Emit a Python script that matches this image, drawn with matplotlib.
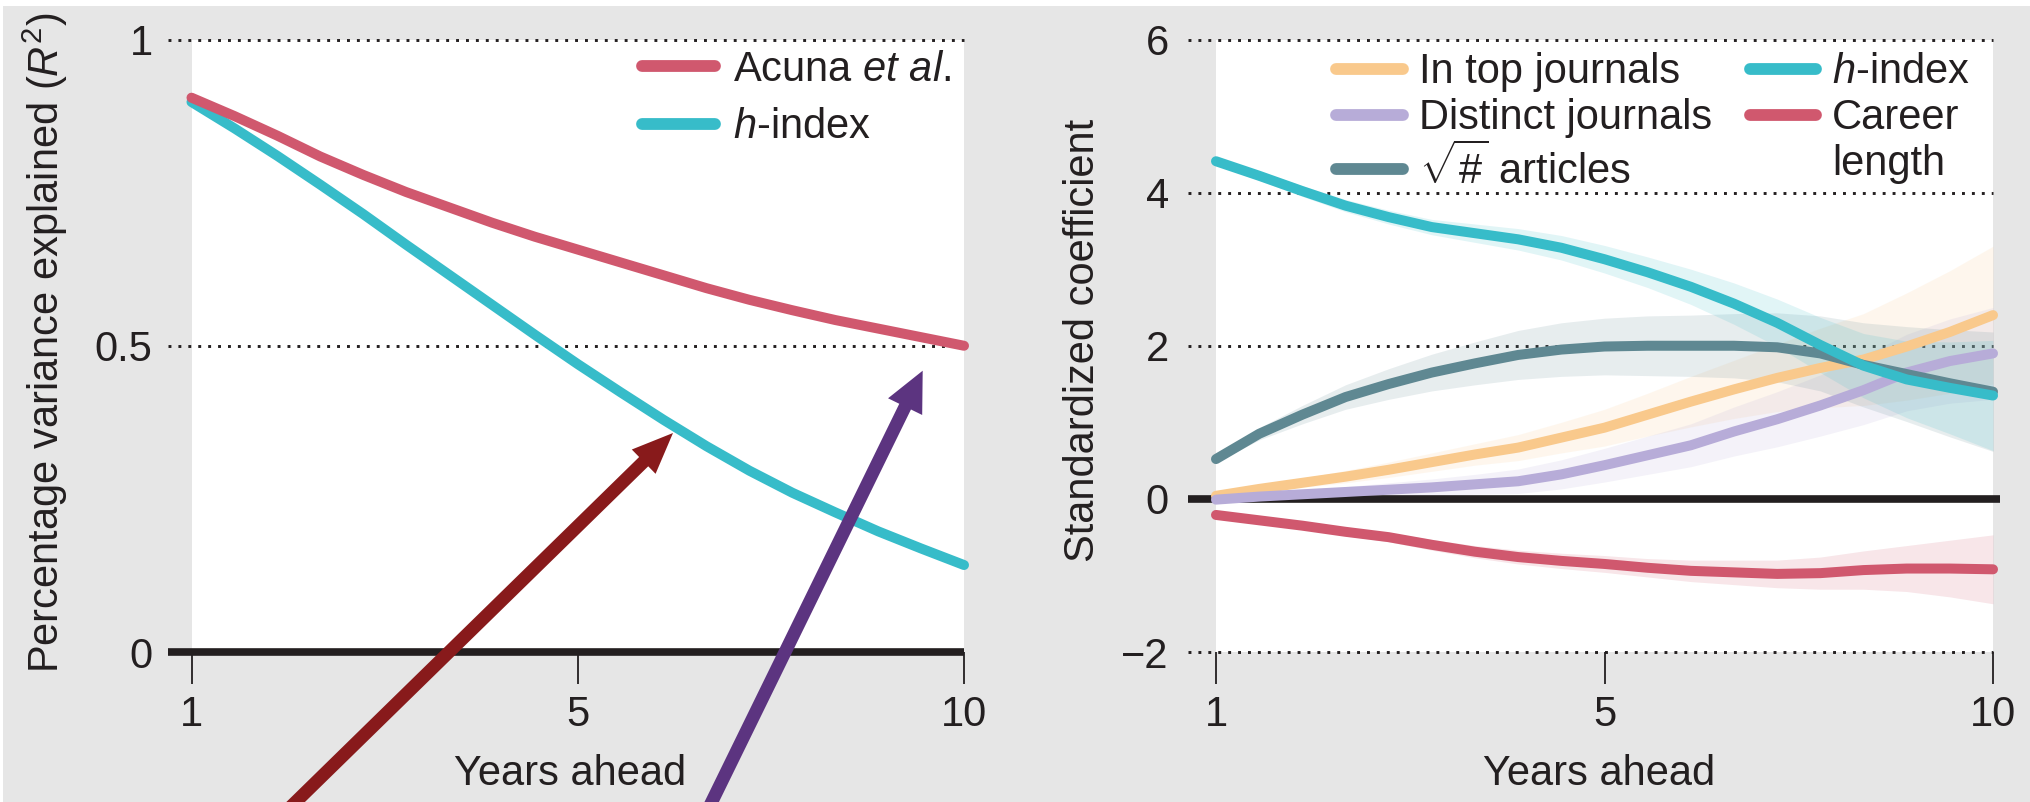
import matplotlib
matplotlib.use("Agg")
import numpy as np
import matplotlib.pyplot as plt
from matplotlib.lines import Line2D
from matplotlib.patches import Rectangle

plt.rcParams['font.family'] = ['Liberation Sans', 'DejaVu Sans']
plt.rcParams['mathtext.fontset'] = 'custom'
plt.rcParams['mathtext.rm'] = 'Liberation Sans'
plt.rcParams['mathtext.it'] = 'Liberation Sans:italic'
plt.rcParams['mathtext.bf'] = 'Liberation Sans:bold'

# ================= DATA =================
# horizontal position along the "years ahead" axis (tick "5" sits mid-way)
x_pos = [1, 1.5, 2, 2.5, 3, 3.5, 4, 4.5, 5, 5.5, 6, 6.5, 7, 7.5, 8, 8.5, 9, 9.5, 10]
x_ticks = [1, 5.5, 10]
x_ticklabels = ['1', '5', '10']

# left panel: R^2 of the two predictors
r2_acuna = [0.905, 0.875, 0.843, 0.809, 0.779, 0.751, 0.726, 0.701, 0.678, 0.657,
            0.636, 0.615, 0.594, 0.575, 0.558, 0.542, 0.528, 0.514, 0.500]
r2_hindex = [0.898, 0.855, 0.810, 0.763, 0.715, 0.665, 0.616, 0.567, 0.518, 0.470,
             0.424, 0.379, 0.336, 0.296, 0.260, 0.228, 0.197, 0.169, 0.142]
left_yticks = [0, 0.5, 1]
left_yticklabels = ['0', '0.5', '1']

# right panel: standardized coefficients and their interval half-widths
coef_top = [0.04, 0.13, 0.21, 0.29, 0.38, 0.48, 0.58, 0.67, 0.80, 0.93,
            1.10, 1.27, 1.43, 1.58, 1.71, 1.82, 1.99, 2.18, 2.40]
coef_distinct = [-0.01, 0.03, 0.06, 0.09, 0.12, 0.15, 0.19, 0.23, 0.32, 0.44,
                 0.57, 0.70, 0.88, 1.04, 1.22, 1.42, 1.65, 1.80, 1.90]
coef_articles = [0.52, 0.85, 1.10, 1.33, 1.50, 1.65, 1.77, 1.88, 1.95, 1.99,
                 2.00, 2.00, 2.00, 1.98, 1.90, 1.75, 1.63, 1.51, 1.40]
coef_hindex = [4.41, 4.22, 4.02, 3.83, 3.68, 3.55, 3.47, 3.39, 3.28, 3.13,
               2.96, 2.77, 2.55, 2.30, 2.01, 1.74, 1.56, 1.45, 1.35]
coef_career = [-0.21, -0.28, -0.35, -0.43, -0.50, -0.60, -0.69, -0.76, -0.81, -0.85,
               -0.90, -0.94, -0.96, -0.98, -0.97, -0.93, -0.91, -0.91, -0.92]

ci_top = [0.02, 0.04, 0.06, 0.08, 0.10, 0.12, 0.14, 0.17, 0.20, 0.24,
          0.28, 0.33, 0.38, 0.44, 0.52, 0.60, 0.70, 0.80, 0.90]
ci_distinct = [0.02, 0.03, 0.05, 0.07, 0.09, 0.11, 0.13, 0.16, 0.19, 0.22,
               0.25, 0.28, 0.32, 0.36, 0.40, 0.45, 0.50, 0.55, 0.60]
ci_articles = [0.04, 0.08, 0.12, 0.16, 0.20, 0.24, 0.28, 0.32, 0.35, 0.37,
               0.39, 0.40, 0.42, 0.45, 0.49, 0.55, 0.62, 0.70, 0.78]
ci_hindex = [0.05, 0.06, 0.07, 0.08, 0.09, 0.10, 0.12, 0.14, 0.16, 0.18,
             0.20, 0.23, 0.27, 0.31, 0.36, 0.42, 0.50, 0.60, 0.72]
ci_career = [0.02, 0.03, 0.04, 0.05, 0.06, 0.07, 0.08, 0.09, 0.10, 0.11,
             0.12, 0.14, 0.16, 0.18, 0.21, 0.25, 0.30, 0.37, 0.45]
right_yticks = [-2, 0, 2, 4, 6]
right_yticklabels = ['\u22122', '0', '2', '4', '6']

# ================= STYLE =================
INK = '#231f20'
BG = '#e6e6e6'
RED = '#d0586e'
CYAN = '#37bcc9'
ORANGE = '#f9c98c'
LAVENDER = '#b7acd8'
TEAL = '#5f8892'
FS = 30
LW = 7.2

fig = plt.figure(figsize=(20.3, 8.02), dpi=100, facecolor='white')
fig.patches.append(Rectangle((3 / 2030, 0), 1, 796 / 802, transform=fig.transFigure,
                             facecolor=BG, edgecolor='none', zorder=-10))

axL = fig.add_axes([191.5 / 2030, 150 / 802, 772.5 / 2030, 612.5 / 802])
axR = fig.add_axes([1216 / 2030, 150 / 802, 777 / 2030, 612.5 / 802])


def style_axis(ax, yticks, yticklabels, ypad, grid_vals, zero_val, ext_left, ext_right):
    ax.set_facecolor('white')
    for s in ax.spines.values():
        s.set_visible(False)
    ax.set_xlim(1, 10)
    ax.set_xticks(x_ticks)
    ax.set_xticklabels(x_ticklabels)
    ax.set_yticks(yticks)
    ax.set_yticklabels(yticklabels)
    ax.tick_params(axis='x', direction='out', length=23, width=1.3, color=INK,
                   pad=8, labelsize=FS, labelcolor=INK)
    ax.tick_params(axis='y', length=0, pad=ypad, labelsize=FS, labelcolor=INK)
    tr = ax.get_yaxis_transform()
    for v in grid_vals:
        ax.plot([-ext_left, 1], [v, v], transform=tr, ls=(0, (1, 2.4)), lw=2.1,
                color=INK, clip_on=False, zorder=1)
    ax.plot([-ext_left, 1 + ext_right], [zero_val, zero_val], transform=tr, lw=5.5,
            color=INK, solid_capstyle='butt', clip_on=False, zorder=2)


# ---- left panel ----
axL.set_ylim(0, 1)
style_axis(axL, left_yticks, left_yticklabels, 28, [0.5, 1], 0, 0.0304, 0)
axL.plot(x_pos, r2_acuna, color=RED, lw=LW, solid_capstyle='round', clip_on=False,
         zorder=4, label='Acuna $et\\ al.$')
axL.plot(x_pos, r2_hindex, color=CYAN, lw=LW, solid_capstyle='round', clip_on=False,
         zorder=3, label='$h$-index')
legL = axL.legend(loc='upper left', bbox_to_anchor=(0.583, 0.983), frameon=False,
                  fontsize=FS, handlelength=1.75, handletextpad=0.43, labelspacing=0.42,
                  borderpad=0, borderaxespad=0)
for h in legL.legend_handles:
    h.set_linewidth(8.5)
for t in legL.get_texts():
    t.set_color(INK)

# ---- right panel ----
axR.set_ylim(-2, 6)
style_axis(axR, right_yticks, right_yticklabels, 34, [-2, 2, 4, 6], 0, 0.036, 0.009)

x = np.array(x_pos)
series = [
    (coef_top, ci_top, ORANGE, 3),
    (coef_distinct, ci_distinct, LAVENDER, 3.1),
    (coef_articles, ci_articles, TEAL, 3.2),
    (coef_hindex, ci_hindex, CYAN, 3.3),
    (coef_career, ci_career, RED, 3.4),
]
handles = []
for vals, ci, col, z in series:
    v = np.array(vals)
    c = np.array(ci)
    axR.fill_between(x, v - c, v + c, color=col, alpha=0.15, lw=0, zorder=1.5)
    ln, = axR.plot(x, v, color=col, lw=LW, solid_capstyle='round', clip_on=False, zorder=z)
    handles.append(ln)

# "Career length" wraps onto a second row, so the last slot gets an empty handle
blank = Line2D([], [], color='none')
leg_handles = handles[:3] + [handles[3], handles[4], blank]
leg_labels = ['In top journals', 'Distinct journals', '$\\sqrt{\\#}$ articles',
              '$h$-index', 'Career', 'length']
legR = axR.legend(leg_handles, leg_labels, ncol=2, loc='upper left',
                  bbox_to_anchor=(0.155, 0.979), frameon=False, fontsize=FS,
                  handlelength=1.6, handletextpad=0.38, labelspacing=0.14,
                  columnspacing=0.9, borderpad=0, borderaxespad=0)
for h in legR.legend_handles:
    h.set_linewidth(8.5)
for t in legR.get_texts():
    t.set_color(INK)

# ---- axis titles ----
fig.text(45 / 2030, 1 - 343 / 802, 'Percentage variance explained ($R^2$)', rotation=90,
         ha='center', va='center', fontsize=FS, color=INK)
fig.text(1083 / 2030, 1 - 340 / 802, 'Standardized coefficient', rotation=90,
         ha='center', va='center', fontsize=FS, color=INK)
fig.text(570 / 2030, 1 - 785 / 802, 'Years ahead', ha='center', va='baseline',
         fontsize=FS, color=INK)
fig.text(1599 / 2030, 1 - 785 / 802, 'Years ahead', ha='center', va='baseline',
         fontsize=FS, color=INK)

# ---- overlaid arrows (pixel space, y down) ----
ov = fig.add_axes([0, 0, 1, 1], zorder=10)
ov.set_xlim(0, 2030)
ov.set_ylim(802, 0)
ov.axis('off')
ov.arrow(267, 830, 406, -397, width=13, head_width=34, head_length=41,
         length_includes_head=True, fc='#881a1b', ec='none')
ov.arrow(698, 830, 224.7, -459.3, width=13, head_width=38, head_length=40,
         length_includes_head=True, fc='#5c3480', ec='none')

fig.savefig('out.png', dpi=100, facecolor=fig.get_facecolor())
